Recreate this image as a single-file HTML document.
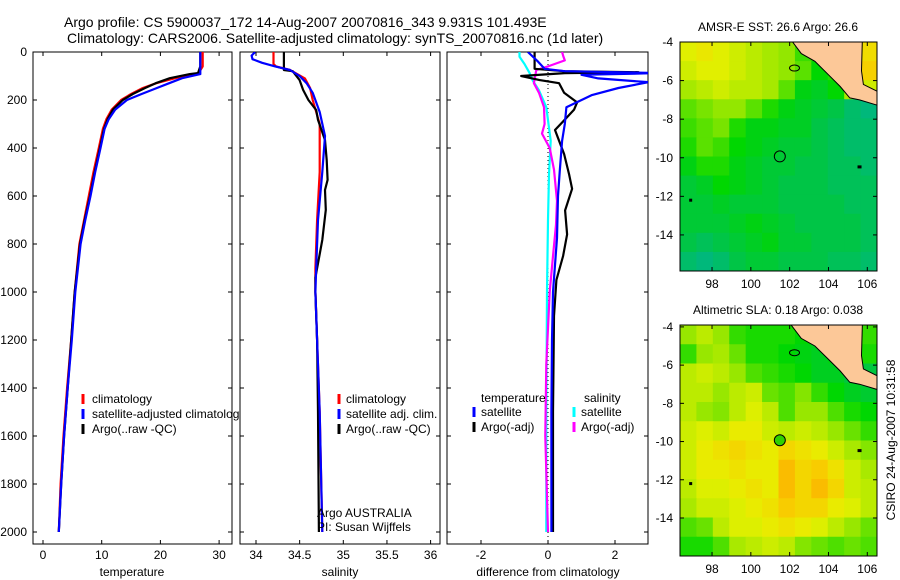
<!DOCTYPE html>
<html><head><meta charset="utf-8"><style>
html,body{margin:0;padding:0;background:#fff;}
svg{display:block;font-family:"Liberation Sans",sans-serif;}
</style></head><body>
<svg id="fig" width="900" height="580" viewBox="0 0 900 580">
<defs>
<clipPath id="c1"><rect x="33" y="52" width="199" height="492"/></clipPath>
<clipPath id="c2"><rect x="240" y="52" width="200" height="492"/></clipPath>
<clipPath id="c3"><rect x="447" y="52" width="201" height="492"/></clipPath>
<clipPath id="cm1"><rect x="680" y="42" width="197" height="229"/></clipPath>
<clipPath id="cm2"><rect x="680" y="325" width="197" height="231"/></clipPath>
</defs>
<text x="64" y="27" font-size="14">Argo profile: CS 5900037_172 14-Aug-2007 20070816_343 9.931S 101.493E</text>
<text x="67" y="43" font-size="14">Climatology: CARS2006. Satellite-adjusted climatology: synTS_20070816.nc (1d later)</text>
<g id="g"></g>
</svg>
<script>
// ---------- data ----------
const depthT = [0,60,88,92,109,130,150,175,200,240,280,320,400,500,600,700,800,1000,1200,1400,1600,1800,2000];
const tempClim = [27.2,27.2,26.5,25.6,22.5,19.3,17.0,15.0,13.3,11.7,10.8,10.2,9.5,8.6,7.8,7.0,6.2,5.4,4.8,4.1,3.5,3.0,2.7];
const tempArgo = [26.8,26.8,26.4,25.0,21.6,19.2,17.4,15.3,13.6,11.9,11.0,10.4,9.7,8.8,8.0,7.1,6.3,5.4,4.8,4.2,3.6,3.1,2.7];
const tempSat = [26.8,26.8,26.8,26.8,23.7,21.5,19.4,16.8,14.3,12.3,11.2,10.5,9.8,8.9,8.1,7.2,6.4,5.5,4.9,4.2,3.6,3.1,2.7];

const depthSArgo = [0,75,80,117,158,200,242,283,367,450,533,575,658,783,940,1000,1200,1500,2000];
const salArgo = [34.32,34.32,34.42,34.50,34.54,34.60,34.69,34.71,34.79,34.81,34.82,34.79,34.80,34.76,34.68,34.68,34.70,34.71,34.72];
const depthSClim = [0,50,60,75,110,150,200,300,500,700,900,1000,1200,1500,2000];
const salClim = [34.2,34.2,34.23,34.39,34.56,34.62,34.65,34.73,34.73,34.70,34.68,34.68,34.70,34.73,34.76];
const depthSSat = [0,15,30,45,60,75,100,130,170,250,350,500,700,900,1000,1200,1500,2000];
const salSat = [33.99,33.95,33.96,34.07,34.22,34.39,34.50,34.58,34.65,34.73,34.79,34.76,34.71,34.69,34.68,34.70,34.73,34.76];

const depthDTSat = [0,40,70,80,88,95,110,126,150,180,230,300,370,500,600,775,1000,1200,1500,2000];
const diffTSat = [-0.6,-0.3,-0.1,0.5,3.3,1.0,1.5,3.0,2.1,1.3,0.55,0.5,0.42,0.35,0.3,0.27,0.15,0.12,0.1,0.1];
const depthDTArgo = [0,70,80,84,88,100,117,130,170,210,240,285,325,370,425,510,570,660,760,850,950,1100,1500,2000];
const diffTArgo = [-0.4,-0.4,0.5,2.7,0.5,-0.8,-0.25,0.33,0.48,0.87,0.78,0.48,0.21,0.33,0.48,0.63,0.72,0.51,0.57,0.45,0.25,0.18,0.15,0.15];
const depthDSSat = [0,20,50,88,120,160,230,370,510,700,1000,1500,2000];
const diffSSat = [-0.85,-0.85,-0.7,-0.55,-0.45,-0.27,-0.05,0.08,0.03,0.0,-0.03,-0.05,-0.05];
const depthDSArgo = [0,15,35,60,75,130,170,230,300,340,400,490,620,720,850,1000,1300,1600,2000];
const diffSArgo = [0.42,0.45,0.5,0.0,-0.35,-0.42,-0.27,-0.12,-0.1,-0.18,0.05,0.18,0.27,0.24,0.15,0.05,-0.05,-0.08,0.0];

const depthTicks = [0,200,400,600,800,1000,1200,1400,1600,1800,2000];
const tempTicks = [0,10,20,30];
const salTicks = [34,34.5,35,35.5,36];
const diffTicks = [-2,0,2];
const lonTicks = [98,100,102,104,106];
const latTicks = [-4,-6,-8,-10,-12,-14];

const sstGrid = [
[28.6,28.7,28.6,28.5,28.4,28.3,28.2,27.9,27.8,28.2,28.6,28.8],
[28.5,28.6,28.6,28.5,28.4,28.3,28.2,28.0,27.7,27.8,28.4,28.9],
[28.3,28.4,28.5,28.4,28.4,28.3,28.0,27.6,27.5,27.7,28.3,28.5],
[28.0,28.1,28.2,28.2,28.0,27.8,27.6,27.5,27.4,27.3,27.1,27.0],
[27.9,28.0,28.1,27.8,27.6,27.6,27.5,27.5,27.3,27.2,27.1,27.1],
[27.8,28.0,27.9,27.7,27.6,27.5,27.4,27.4,27.3,27.2,27.1,27.1],
[27.6,27.8,27.8,27.6,27.5,27.4,27.4,27.3,27.3,27.2,27.2,27.1],
[27.4,27.5,27.7,27.6,27.5,27.4,27.3,27.3,27.3,27.2,27.2,27.2],
[27.4,27.4,27.5,27.4,27.4,27.4,27.3,27.3,27.3,27.3,27.2,27.2],
[27.4,27.4,27.4,27.5,27.6,27.5,27.4,27.3,27.3,27.3,27.3,27.2],
[27.3,27.2,27.3,27.4,27.5,27.6,27.4,27.4,27.3,27.3,27.3,27.2],
[27.1,27.0,27.1,27.3,27.4,27.4,27.3,27.3,27.3,27.2,27.2,27.1]];
const slaGrid = [
[0.10,0.12,0.10,0.06,0.05,0.05,0.05,0.04,0.04,0.05,0.06,0.06],
[0.06,0.10,0.11,0.08,0.05,0.05,0.04,0.03,0.02,0.03,0.05,0.05],
[0.12,0.13,0.12,0.10,0.07,0.06,0.05,0.04,0.02,0.02,0.00,0.00],
[0.12,0.12,0.10,0.12,0.13,0.08,0.07,0.09,0.06,0.04,0.02,0.01],
[0.12,0.10,0.09,0.12,0.14,0.12,0.07,0.10,0.10,0.07,0.05,0.04],
[0.13,0.14,0.13,0.15,0.15,0.13,0.12,0.13,0.12,0.10,0.08,0.06],
[0.13,0.15,0.16,0.17,0.16,0.15,0.17,0.16,0.15,0.13,0.11,0.09],
[0.13,0.15,0.15,0.16,0.15,0.15,0.19,0.17,0.18,0.16,0.13,0.11],
[0.12,0.14,0.14,0.15,0.16,0.15,0.19,0.17,0.19,0.17,0.13,0.12],
[0.11,0.13,0.13,0.14,0.15,0.16,0.18,0.17,0.17,0.15,0.14,0.12],
[0.07,0.08,0.12,0.14,0.14,0.15,0.16,0.15,0.14,0.12,0.10,0.08],
[0.05,0.05,0.07,0.11,0.12,0.13,0.12,0.09,0.08,0.07,0.08,0.07]];
const landLon = [102.0,102.6,103.3,104.0,104.6,105.1,105.6,106.6,106.6,105.8,105.7,105.75];
const landLat = [-3.8,-4.6,-5.0,-5.7,-6.3,-6.9,-7.0,-7.3,-6.6,-6.2,-5.5,-3.8];
const floatLon = 101.493, floatLat = -9.931;

// ---------- helpers ----------
const NS = "http://www.w3.org/2000/svg";
const G = document.getElementById('g');
function mk(tag, attrs, parent){
  const e = document.createElementNS(NS, tag);
  for (const k in attrs) e.setAttribute(k, attrs[k]);
  (parent||G).appendChild(e); return e;
}
const yD = d => 52 + 0.24*d;
const xT = t => 43 + 5.87*t;
const xS = s => 256 + 87.3*(s-34);
const xDf = v => 548 + 33.5*v;

function line(depths, vals, xf, color, clip, name, w){
  const pts = depths.map((d,i)=> xf(vals[i]).toFixed(1)+','+yD(d).toFixed(1)).join(' ');
  const p = mk('polyline', {points:pts, fill:'none', stroke:color, 'stroke-width':w||2.2, 'clip-path':'url(#'+clip+')', 'stroke-linejoin':'round'});
  
  
}
function frame(x0,x1,name){
  const r = mk('rect',{x:x0,y:52,width:x1-x0,height:492,fill:'#fff',stroke:'#000','stroke-width':1});
  
  
  depthTicks.forEach(d=>{
    mk('line',{x1:x0,x2:x0+4,y1:yD(d),y2:yD(d),stroke:'#000'});
    mk('line',{x1:x1-4,x2:x1,y1:yD(d),y2:yD(d),stroke:'#000'});
  });
}
function xticks(ticks, xf, fmt){
  ticks.forEach(t=>{
    const x = xf(t);
    mk('line',{x1:x,x2:x,y1:544,y2:540,stroke:'#000'});
    mk('line',{x1:x,x2:x,y1:52,y2:56,stroke:'#000'});
    const tx = mk('text',{x:x,y:559,'font-size':12,'text-anchor':'middle'});
    tx.textContent = fmt(t);
    
    
  });
}
function txt(x,y,s,name,size,anchor){
  const t = mk('text',{x:x,y:y,'font-size':size||12,'text-anchor':anchor||'start'});
  t.textContent = s;
  
  
  return t;
}
function legBar(x,y,color){
  const b = mk('line',{x1:x,x2:x,y1:y-10,y2:y,stroke:color,'stroke-width':3});
  
  
}

// ---------- panel 1 ----------
frame(33,232,'temperature-panel');
depthTicks.forEach(d=>{ txt(27, yD(d)+4, String(d), 'y-tick-label', 12, 'end'); });
xticks(tempTicks, xT, t=>String(t));
line(depthT, tempClim, xT, '#ff0000', 'c1', 'temperature-climatology-line');
line(depthT, tempArgo, xT, '#000000', 'c1', 'temperature-argo-line');
line(depthT, tempSat, xT, '#0000ff', 'c1', 'temperature-satellite-line');
txt(132,576,'temperature','x-axis-title-temperature',12,'middle');
legBar(83,404,'#ff0000'); txt(92,403,'climatology','legend-entry');
legBar(83,419,'#0000ff'); txt(92,418,'satellite-adjusted climatology','legend-entry');
legBar(83,434,'#000000'); txt(92,433,'Argo(..raw -QC)','legend-entry');

// ---------- panel 2 ----------
frame(240,440,'salinity-panel');
xticks(salTicks, xS, t=>String(t));
line(depthSClim, salClim, xS, '#ff0000', 'c2', 'salinity-climatology-line');
line(depthSArgo, salArgo, xS, '#000000', 'c2', 'salinity-argo-line');
line(depthSSat, salSat, xS, '#0000ff', 'c2', 'salinity-satellite-line');
txt(340,576,'salinity','x-axis-title-salinity',12,'middle');
legBar(339,404,'#ff0000'); txt(346,403,'climatology','legend-entry');
legBar(339,419,'#0000ff'); txt(346,418,'satellite adj. clim.','legend-entry');
legBar(339,434,'#000000'); txt(346,433,'Argo(..raw -QC)','legend-entry');
txt(317,517,'Argo AUSTRALIA','argo-agency-label');
txt(317,531,'PI: Susan Wijffels','pi-label');

// ---------- panel 3 ----------
frame(447,648,'difference-panel');
xticks(diffTicks, xDf, t=>String(t));
mk('line',{x1:xDf(0),x2:xDf(0),y1:52,y2:544,stroke:'#000','stroke-dasharray':'1,3','stroke-width':1});
line(depthDSSat, diffSSat, xDf, '#00ffff', 'c3', 'salinity-satellite-diff-line');
line(depthDSArgo, diffSArgo, xDf, '#ff00ff', 'c3', 'salinity-argo-diff-line');
line(depthDTArgo, diffTArgo, xDf, '#000000', 'c3', 'temperature-argo-diff-line');
line(depthDTSat, diffTSat, xDf, '#0000ff', 'c3', 'temperature-satellite-diff-line');
txt(548,576,'difference from climatology','x-axis-title-difference',12,'middle');
txt(481,402,'temperature','legend-header-temperature');
txt(584,402,'salinity','legend-header-salinity');
legBar(474,417,'#0000ff'); txt(481,416,'satellite','legend-entry');
legBar(474,432,'#000000'); txt(481,431,'Argo(-adj)','legend-entry');
legBar(574,417,'#00ffff'); txt(581,416,'satellite','legend-entry');
legBar(574,432,'#ff00ff'); txt(581,431,'Argo(-adj)','legend-entry');

// ---------- maps ----------
const stops = [[0,[0,180,140]],[0.2,[0,200,60]],[0.35,[0,215,0]],[0.55,[140,230,0]],[0.75,[230,240,0]],[0.9,[250,200,0]],[1,[250,150,0]]];
function cmap(t){
  t = Math.max(0,Math.min(1,t));
  for (let i=1;i<stops.length;i++){
    if (t<=stops[i][0]){
      const a=stops[i-1], b=stops[i], f=(t-a[0])/(b[0]-a[0]);
      const c=a[1].map((v,k)=>Math.round(v+(b[1][k]-v)*f));
      return 'rgb('+c.join(',')+')';
    }
  }
  return 'rgb(250,150,0)';
}
function drawMap(cfg){
  const {y0,y1,latTop,latBot,grid,vmin,vmax,clip,title,name,floatFill} = cfg;
  const x0=680, x1=877, lonL=96.35, lonR=106.5;
  const mx = lon => x0 + (lon-lonL)/(lonR-lonL)*(x1-x0);
  const my = lat => y0 + (latTop-lat)/(latTop-latBot)*(y1-y0);
  const g = mk('g',{'clip-path':'url(#'+clip+')'});
  
  
  const rows = grid.length, cols = grid[0].length;
  const cw=(x1-x0)/cols, ch=(y1-y0)/rows;
  grid.forEach((row,r)=>row.forEach((v,c)=>{
    const cell = mk('rect',{x:(x0+c*cw).toFixed(2),y:(y0+r*ch).toFixed(2),width:(cw+0.6).toFixed(2),height:(ch+0.6).toFixed(2),fill:cmap((v-vmin)/(vmax-vmin))}, g);
    
    
  }));
  const land = mk('polygon',{points:landLon.map((l,i)=>mx(l).toFixed(1)+','+my(landLat[i]).toFixed(1)).join(' '),fill:'#fcc898',stroke:'#000','stroke-width':1}, g);
  
  
  const isl = mk('ellipse',{cx:mx(102.25),cy:my(-5.35),rx:5,ry:3,fill:'none',stroke:'#000'}, g);
  
  
  mk('rect',{x:mx(105.6)-2,y:my(-10.5)-2,width:4,height:3,fill:'#000'}, g);
  mk('rect',{x:mx(96.9)-1.5,y:my(-12.2)-1.5,width:3,height:3,fill:'#000'}, g);
  const fl = mk('circle',{cx:mx(floatLon),cy:my(floatLat),r:5.5,fill:floatFill,stroke:'#000','stroke-width':1});
  
  
  const fr = mk('rect',{x:x0,y:y0,width:x1-x0,height:y1-y0,fill:'none',stroke:'#000'});
  
  
  lonTicks.forEach(l=>{
    const x=mx(l);
    mk('line',{x1:x,x2:x,y1:y1,y2:y1-4,stroke:'#000'});
    mk('line',{x1:x,x2:x,y1:y0,y2:y0+4,stroke:'#000'});
    txt(x,y1+17,String(l),'lon-tick-label',12,'middle');
  });
  latTicks.forEach(l=>{
    const y=my(l);
    mk('line',{x1:x0,x2:x0+4,y1:y,y2:y,stroke:'#000'});
    mk('line',{x1:x1-4,x2:x1,y1:y,y2:y,stroke:'#000'});
    txt(673,y+4,String(l),'lat-tick-label',12,'end');
  });
  txt(778,y0-11,title,name+'-title',12,'middle');
}
drawMap({y0:42,y1:271,latTop:-4.0,latBot:-15.87,grid:sstGrid,vmin:26.9,vmax:29.2,clip:'cm1',title:'AMSR-E SST: 26.6 Argo: 26.6',name:'sst-map',floatFill:'none'});
drawMap({y0:325,y1:556,latTop:-3.9,latBot:-15.99,grid:slaGrid,vmin:-0.05,vmax:0.21,clip:'cm2',title:'Altimetric SLA: 0.18 Argo: 0.038',name:'sla-map',floatFill:'#30d000'});
const cs = txt(0,0,'CSIRO 24-Aug-2007 10:31:58','csiro-timestamp',12,'middle');
cs.setAttribute('transform','translate(895,440) rotate(-90)');
</script>
</body></html>
